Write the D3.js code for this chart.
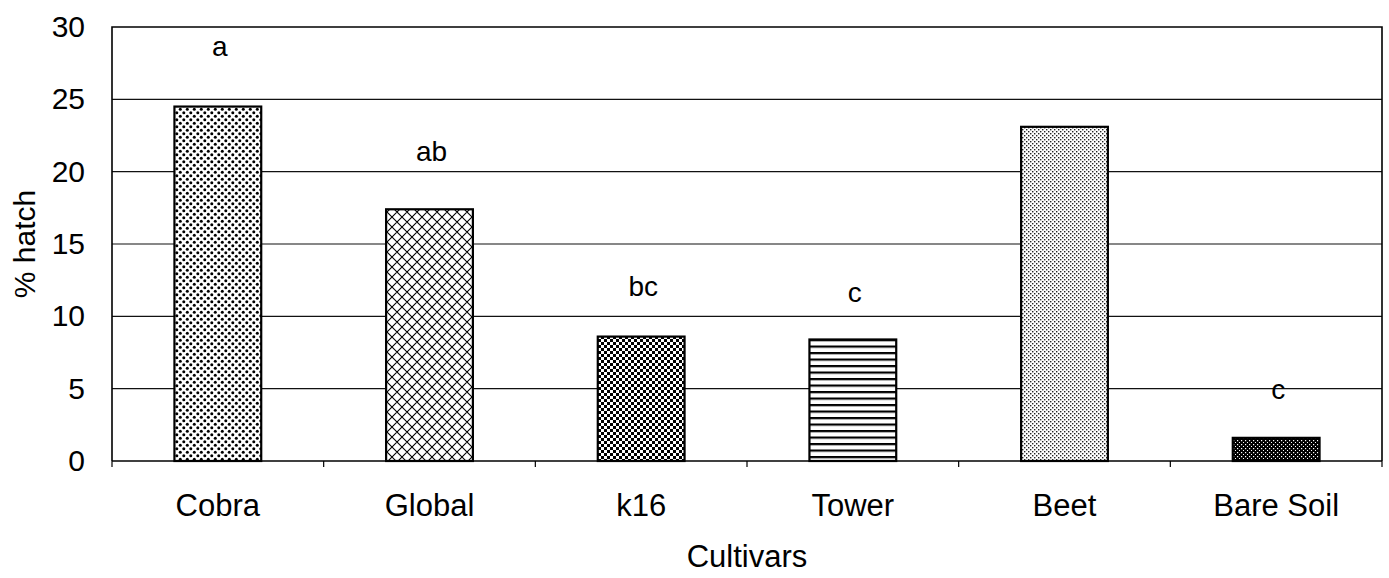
<!DOCTYPE html>
<html>
<head>
<meta charset="utf-8">
<script src="https://cdn.jsdelivr.net/npm/d3@7"></script>
<style>
  body { margin: 0; background: #fff; }
  text { font-family: "Liberation Sans", Arial, sans-serif; fill: #000; }
</style>
</head>
<body>
<div id="graph"></div>
<script>
"use strict";

var categories = ["Cobra", "Global", "k16", "Tower", "Beet", "Bare Soil"];
var values = [24.5, 17.4, 8.6, 8.4, 23.1, 1.6];
var letters = ["a", "ab", "bc", "c", "", "c"];
var letterY = [28.6, 21.3, 12.0, 11.6, 0, 4.9];
var yTicks = [0, 5, 10, 15, 20, 25, 30];
var patterns = ["dots", "cross", "check", "hlines", "fine", "dense"];

var width = 1389, height = 578;
var margin = {top: 27, left: 112, bottom: 117, right: 7};
var chartWidth = width - margin.left - margin.right;
var chartHeight = height - margin.top - margin.bottom;

var svg = d3.select("#graph").append("svg")
    .attr("width", width)
    .attr("height", height);

var defs = svg.append("defs");

// dotted pattern (Cobra)
var p = defs.append("pattern").attr("id", "dots")
    .attr("patternUnits", "userSpaceOnUse").attr("width", 7).attr("height", 7);
p.append("rect").attr("width", 7).attr("height", 7).attr("fill", "#fff");
p.append("circle").attr("cx", 1.8).attr("cy", 1.8).attr("r", 1.5).attr("fill", "#000");
p.append("circle").attr("cx", 5.3).attr("cy", 5.3).attr("r", 1.5).attr("fill", "#000");

// crosshatch (Global)
p = defs.append("pattern").attr("id", "cross")
    .attr("patternUnits", "userSpaceOnUse").attr("width", 10).attr("height", 10);
p.append("rect").attr("width", 10).attr("height", 10).attr("fill", "#fff");
p.append("path").attr("d", "M0,0L10,10M10,0L0,10M-5,5L5,15M5,-5L15,5M-5,5L5,-5M5,15L15,5")
    .attr("stroke", "#000").attr("stroke-width", 1.1);

// checkerboard (k16)
p = defs.append("pattern").attr("id", "check")
    .attr("patternUnits", "userSpaceOnUse").attr("width", 6).attr("height", 6);
p.append("rect").attr("width", 6).attr("height", 6).attr("fill", "#fff");
p.append("rect").attr("width", 3).attr("height", 3).attr("fill", "#000");
p.append("rect").attr("x", 3).attr("y", 3).attr("width", 3).attr("height", 3).attr("fill", "#000");

// horizontal lines (Tower)
p = defs.append("pattern").attr("id", "hlines")
    .attr("patternUnits", "userSpaceOnUse").attr("width", 8).attr("height", 6.5);
p.append("rect").attr("width", 8).attr("height", 6.5).attr("fill", "#fff");
p.append("rect").attr("y", 0).attr("width", 8).attr("height", 2.2).attr("fill", "#000");

// fine dots (Beet)
p = defs.append("pattern").attr("id", "fine")
    .attr("patternUnits", "userSpaceOnUse").attr("width", 4).attr("height", 4);
p.append("rect").attr("width", 4).attr("height", 4).attr("fill", "#fff");
p.append("rect").attr("x", 0).attr("y", 0).attr("width", 1.4).attr("height", 1.4).attr("fill", "#222");
p.append("rect").attr("x", 2).attr("y", 2).attr("width", 1.4).attr("height", 1.4).attr("fill", "#222");

// dense (Bare Soil)
p = defs.append("pattern").attr("id", "dense")
    .attr("patternUnits", "userSpaceOnUse").attr("width", 4).attr("height", 4);
p.append("rect").attr("width", 4).attr("height", 4).attr("fill", "#000");
p.append("rect").attr("x", 1).attr("y", 1).attr("width", 1.2).attr("height", 1.2).attr("fill", "#fff");
p.append("rect").attr("x", 3).attr("y", 3).attr("width", 1).attr("height", 1).attr("fill", "#fff");

var chartLayer = svg.append("g")
    .attr("transform", "translate(" + [margin.left, margin.top] + ")");

var x = d3.scaleBand()
    .domain(categories)
    .range([0, chartWidth])
    .paddingInner(0.59)
    .paddingOuter(0.295);

var y = d3.scaleLinear()
    .domain([0, 30])
    .range([chartHeight, 0]);

// grid lines
chartLayer.append("g")
    .selectAll("line")
    .data(yTicks.filter(function (d) { return d > 0 && d < 30; }))
    .enter().append("line")
    .attr("x1", 0).attr("x2", chartWidth)
    .attr("y1", function (d) { return y(d); })
    .attr("y2", function (d) { return y(d); })
    .attr("stroke", "#111").attr("stroke-width", 1.2);

// plot frame
chartLayer.append("path")
    .attr("d", "M0," + chartHeight + "V0H" + chartWidth + "V" + chartHeight)
    .attr("fill", "none").attr("stroke", "#000").attr("stroke-width", 1.6);

// bars
chartLayer.append("g")
    .selectAll("rect")
    .data(values)
    .enter().append("rect")
    .attr("x", function (d, i) { return x(categories[i]); })
    .attr("y", function (d) { return y(d); })
    .attr("width", x.bandwidth())
    .attr("height", function (d) { return chartHeight - y(d); })
    .attr("fill", function (d, i) { return "url(#" + patterns[i] + ")"; })
    .attr("stroke", "#000").attr("stroke-width", 2.2);

// y axis
var yAxis = chartLayer.append("g")
    .call(d3.axisLeft(y).tickValues(yTicks).tickSize(0).tickPadding(27));
yAxis.select(".domain").remove();
yAxis.selectAll("text")
    .style("font-size", "30px")
    .style("font-family", "'Liberation Sans', Arial, sans-serif");

// x axis with ticks at category boundaries
chartLayer.append("line")
    .attr("x1", 0).attr("x2", chartWidth)
    .attr("y1", chartHeight).attr("y2", chartHeight)
    .attr("stroke", "#000").attr("stroke-width", 1.6);

chartLayer.append("g")
    .selectAll("line")
    .data(d3.range(categories.length + 1))
    .enter().append("line")
    .attr("x1", function (d) { return d * chartWidth / categories.length; })
    .attr("x2", function (d) { return d * chartWidth / categories.length; })
    .attr("y1", chartHeight).attr("y2", chartHeight + 6)
    .attr("stroke", "#000").attr("stroke-width", 1.2);

chartLayer.append("g")
    .selectAll("text")
    .data(categories)
    .enter().append("text")
    .attr("x", function (d) { return x(d) + x.bandwidth() / 2; })
    .attr("y", chartHeight + 55)
    .attr("text-anchor", "middle")
    .style("font-size", "31px")
    .text(function (d) { return d; });

// significance letters
chartLayer.append("g")
    .selectAll("text")
    .data(letters)
    .enter().append("text")
    .attr("x", function (d, i) { return x(categories[i]) + x.bandwidth() / 2 + 2; })
    .attr("y", function (d, i) { return y(letterY[i]); })
    .attr("text-anchor", "middle")
    .attr("dy", "0.3em")
    .style("font-size", "28px")
    .text(function (d) { return d; });

// axis titles
svg.append("text")
    .attr("x", margin.left + chartWidth / 2)
    .attr("y", 567)
    .attr("text-anchor", "middle")
    .style("font-size", "31px")
    .text("Cultivars");

svg.append("text")
    .attr("transform", "translate(35," + (margin.top + chartHeight / 2) + ") rotate(-90)")
    .attr("text-anchor", "middle")
    .style("font-size", "30px")
    .text("% hatch");
</script>
</body>
</html>
